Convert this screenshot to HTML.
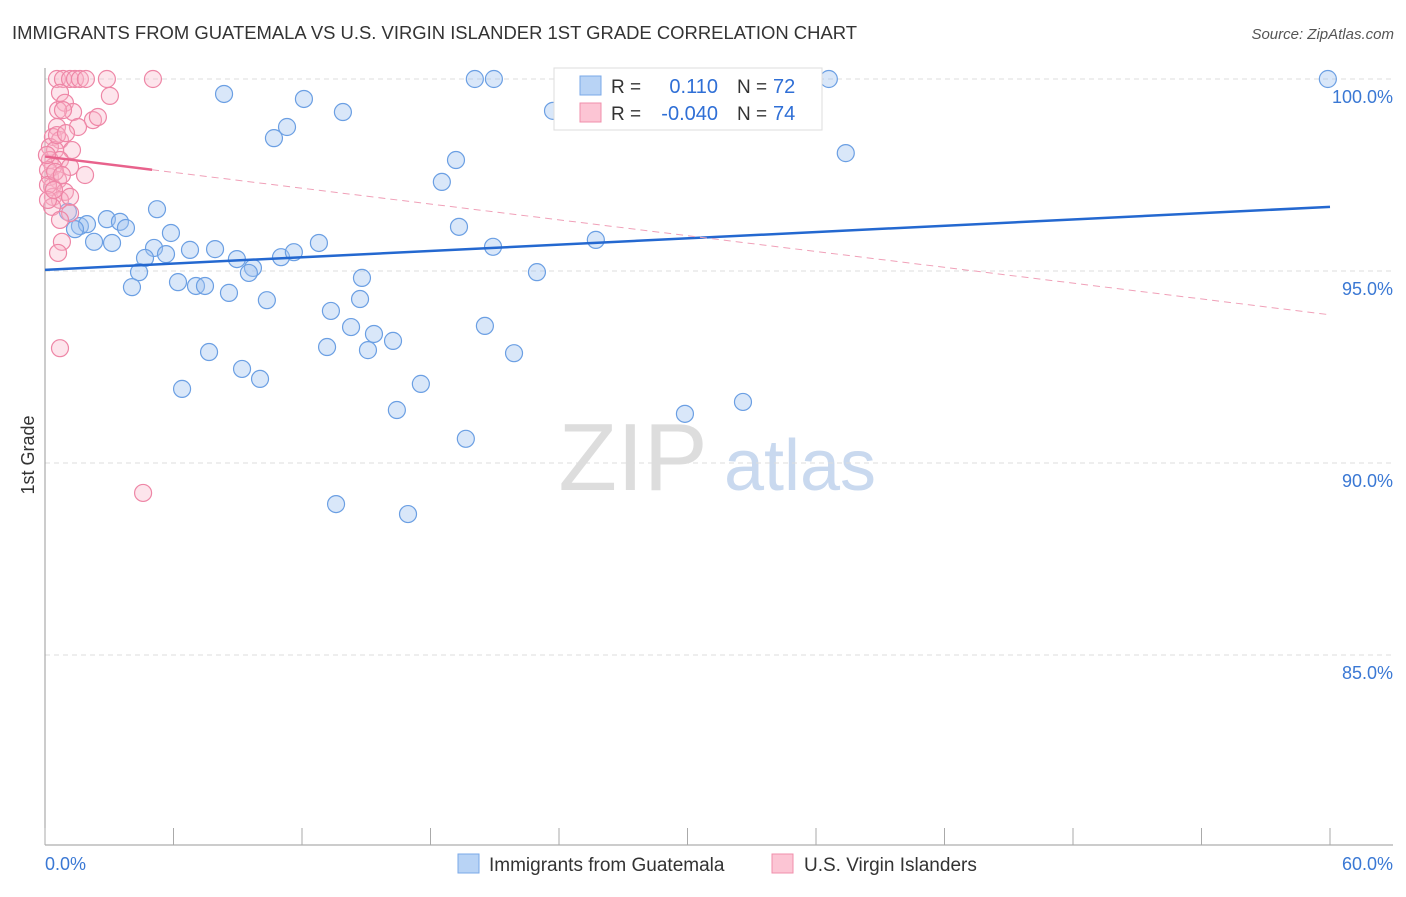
<!DOCTYPE html>
<html><head><meta charset="utf-8"><style>
body{margin:0;background:#fff;font-family:"Liberation Sans",sans-serif;}
svg text{font-family:"Liberation Sans",sans-serif;}
</style></head><body>
<svg id="chart" width="1406" height="892">
<text x="12" y="39" font-size="18" textLength="845" lengthAdjust="spacingAndGlyphs" fill="#333">IMMIGRANTS FROM GUATEMALA VS U.S. VIRGIN ISLANDER 1ST GRADE CORRELATION CHART</text>
<text x="1394" y="39" font-size="15" fill="#555" font-style="italic" text-anchor="end">Source: ZipAtlas.com</text>
<text x="34" y="455" font-size="18" fill="#333" transform="rotate(-90 34 455)" text-anchor="middle">1st Grade</text>
<g><text x="633" y="490" font-size="96" fill="#ddd" text-anchor="middle" font-family="Liberation Serif">ZIP</text><text x="800" y="490" font-size="72" fill="#c9d9ef" text-anchor="middle">atlas</text></g>
<g id="grid"></g><g id="axes"></g><g id="pts"></g><g id="lines"></g>
<g>
<rect x="554" y="68" width="268" height="62" fill="#fff" stroke="#ddd"/>
<rect x="580" y="76" width="21" height="19" fill="#b8d3f5" stroke="#7aa8e8"/>
<rect x="580" y="103" width="21" height="19" fill="#fcc5d4" stroke="#f08fab"/>
<text x="611" y="93" font-size="19" fill="#333">R =</text><text x="718" y="93" font-size="20" fill="#2f6fd6" text-anchor="end">0.110</text>
<text x="737" y="93" font-size="19" fill="#333">N =</text><text x="773" y="93" font-size="20" fill="#2f6fd6">72</text>
<text x="611" y="120" font-size="19" fill="#333">R =</text><text x="718" y="120" font-size="20" fill="#2f6fd6" text-anchor="end">-0.040</text>
<text x="737" y="120" font-size="19" fill="#333">N =</text><text x="773" y="120" font-size="20" fill="#2f6fd6">74</text>
</g>
<g>
<rect x="458" y="854" width="21" height="19" fill="#b8d3f5" stroke="#7aa8e8"/>
<text x="489" y="871" font-size="19" fill="#333">Immigrants from Guatemala</text>
<rect x="772" y="854" width="21" height="19" fill="#fcc5d4" stroke="#f08fab"/>
<text x="804" y="871" font-size="19" fill="#333">U.S. Virgin Islanders</text>
</g>
</svg>
<script>
const yTicks=[100,95,90,85];
const blueX=[8.36,12.09,11.30,10.69,13.91,20.07,20.96,23.72,33.61,36.60,59.90,37.39,19.19,18.53,1.07,5.23,1.63,1.96,2.89,3.50,3.78,1.40,2.29,3.13,5.88,5.09,4.67,5.65,6.77,7.94,8.96,9.71,9.52,11.02,11.62,12.79,19.33,20.92,25.72,4.39,4.06,6.21,7.05,7.47,8.59,10.36,14.80,14.71,22.97,13.35,14.29,13.17,15.36,16.25,15.08,20.54,21.90,7.66,6.40,9.20,10.04,17.55,16.43,19.65,29.88,32.59,13.59,16.95];
const blueY=[99.61,99.48,98.75,98.46,99.14,100,100,99.17,100,100,100,98.07,97.89,97.32,96.54,96.61,96.17,96.22,96.35,96.28,96.12,96.09,95.76,95.73,95.99,95.60,95.34,95.44,95.55,95.57,95.31,95.08,94.95,95.36,95.49,95.73,96.15,95.63,95.81,94.97,94.58,94.71,94.61,94.61,94.43,94.24,94.82,94.27,94.97,93.96,93.54,93.02,93.36,93.18,92.94,93.57,92.86,92.89,91.93,92.45,92.19,92.06,91.38,90.63,91.28,91.59,88.93,88.67];
const pinkX=[0.56,0.84,1.17,1.40,1.63,1.91,2.89,5.04,3.03,0.70,0.93,1.31,0.61,0.84,2.24,2.47,1.54,0.56,0.37,0.70,0.23,0.47,1.26,0.23,0.70,0.37,1.17,1.87,0.23,0.61,0.33,0.93,0.37,0.70,1.17,0.33,1.17,0.70,0.79,0.61,0.70,4.58,0.14,0.14,0.47,0.09,0.56,0.98,0.14,0.79,0.42];
const pinkY=[100,100,100,100,100,100,100,100,99.56,99.64,99.38,99.14,99.19,99.19,98.93,99.01,98.75,98.75,98.49,98.41,98.23,98.15,98.15,97.89,97.89,97.71,97.71,97.50,97.45,97.37,97.19,97.06,96.93,96.85,96.93,96.67,96.51,96.33,95.76,95.47,92.99,89.22,97.63,97.24,97.58,98.02,98.54,98.59,96.85,97.50,97.11];
const blueTrend=[95.03,96.67];
const pinkTrend=[97.98,93.86];
const NS='http://www.w3.org/2000/svg';
const X0=45,X1=1330,Y100=79,PPY=38.4;
const sx=v=>X0+v/60*(X1-X0);
const sy=v=>Y100+(100-v)*PPY;
function mk(tag,attrs,parent){const e=document.createElementNS(NS,tag);for(const k in attrs)e.setAttribute(k,attrs[k]);document.getElementById(parent).appendChild(e);return e;}
yTicks.forEach(t=>{
 const l=mk('line',{x1:X0,x2:1393,y1:sy(t),y2:sy(t),stroke:'#ddd','stroke-dasharray':'5,4'},'grid');
 
 
 const tx=mk('text',{x:1393,y:sy(t)+24,'font-size':18,fill:'#3a78d4','text-anchor':'end'},'grid');
 tx.textContent=t.toFixed(1)+'%';
 
 
});
const ax=mk('line',{x1:X0,x2:X0,y1:68,y2:845,stroke:'#999'},'axes');


const bx=mk('line',{x1:X0,x2:1393,y1:845,y2:845,stroke:'#999'},'axes');


for(let i=0;i<=10;i++){const t=mk('line',{x1:sx(i*6),x2:sx(i*6),y1:828,y2:845,stroke:'#aaa'},'axes');
 
 }
const l0=mk('text',{x:45,y:870,'font-size':18,fill:'#3a78d4'},'axes');l0.textContent='0.0%';


const l1=mk('text',{x:1393,y:870,'font-size':18,fill:'#3a78d4','text-anchor':'end'},'axes');l1.textContent='60.0%';


blueX.forEach((v,i)=>{const c=mk('circle',{cx:sx(v),cy:sy(blueY[i]),r:8.5,fill:'rgba(160,196,240,0.4)',stroke:'#6b9fe3','stroke-width':1.2},'pts');
 
 });
pinkX.forEach((v,i)=>{const c=mk('circle',{cx:sx(v),cy:sy(pinkY[i]),r:8.5,fill:'rgba(248,180,200,0.35)',stroke:'#ee86a6','stroke-width':1.2},'pts');
 
 });
const bl=mk('line',{x1:sx(0),y1:sy(blueTrend[0]),x2:sx(60),y2:sy(blueTrend[1]),stroke:'#2468d0','stroke-width':2.5},'lines');


const pm=pinkTrend[0]+(pinkTrend[1]-pinkTrend[0])*5/60;
const p1=mk('line',{x1:sx(0),y1:sy(pinkTrend[0]),x2:sx(5),y2:sy(pm),stroke:'#e8628c','stroke-width':2.5},'lines');


const p2=mk('line',{x1:sx(5),y1:sy(pm),x2:sx(60),y2:sy(pinkTrend[1]),stroke:'#f0a0b8','stroke-width':1,'stroke-dasharray':'7,5'},'lines');


</script>
</body></html>
